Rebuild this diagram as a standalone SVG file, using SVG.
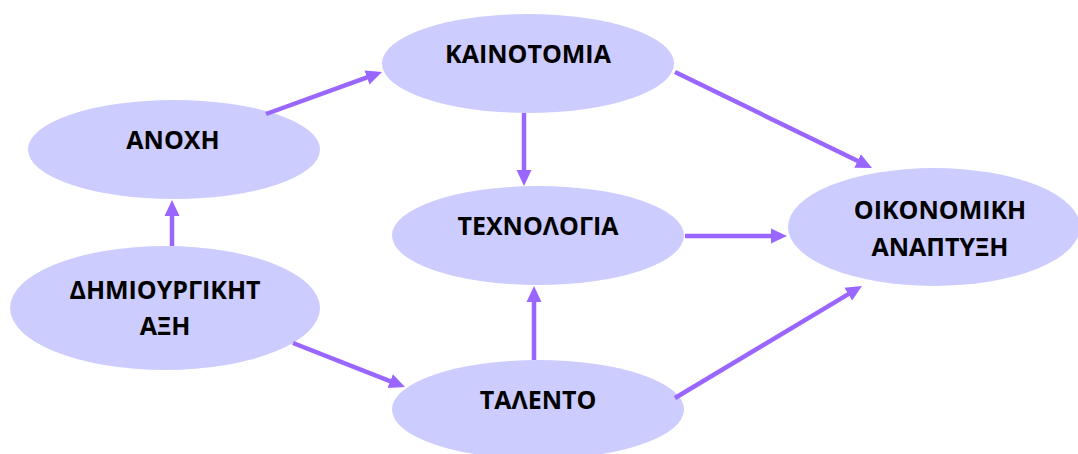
<svg xmlns="http://www.w3.org/2000/svg" width="1078" height="454" viewBox="0 0 1078 454">
<defs>
<style>
.node ellipse{fill:#CCCCFF;}
.node text{font-family:"Open Sans","Liberation Sans",sans-serif;font-weight:bold;font-size:25px;fill:#000;text-anchor:middle;}
.conn line{stroke:#9966FF;stroke-width:4.5;fill:none;marker-end:url(#ah);}
</style>
<marker id="ah" markerUnits="userSpaceOnUse" markerWidth="16" markerHeight="16" refX="6" refY="8" orient="auto">
<path d="M0,0.5 L16,8 L0,15.5 z" fill="#9966FF"/>
</marker>
</defs>
<rect width="1078" height="454" fill="#FFFFFF"/>
<g id="n-anoxh" class="node"><ellipse cx="174" cy="149.5" rx="146" ry="49.5"/><text x="173" y="149">ΑΝΟΧΗ</text></g>
<g id="n-kainotomia" class="node"><ellipse cx="528" cy="63.5" rx="146" ry="49.5"/><text x="528" y="63">ΚΑΙΝΟΤΟΜΙΑ</text></g>
<g id="n-texnologia" class="node"><ellipse cx="538" cy="235.5" rx="146" ry="49.5"/><text x="538" y="235">ΤΕΧΝΟΛΟΓΙΑ</text></g>
<g id="n-talento" class="node"><ellipse cx="538" cy="409.5" rx="146" ry="49.5"/><text x="538" y="409">ΤΑΛΕΝΤΟ</text></g>
<g id="n-dimiourgiki" class="node"><ellipse cx="165" cy="308" rx="155" ry="62"/><text x="165" y="299">ΔΗΜΙΟΥΡΓΙΚΗΤ</text><text x="165" y="335">ΑΞΗ</text></g>
<g id="n-oikonomiki" class="node"><ellipse cx="934" cy="227" rx="146" ry="59"/><text x="940" y="219">ΟΙΚΟΝΟΜΙΚΗ</text><text x="940" y="256">ΑΝΑΠΤΥΞΗ</text></g>
<g id="connectors" class="conn">
<line x1="266" y1="114" x2="372.6" y2="75.4"/>
<line x1="524" y1="113" x2="524" y2="176"/>
<line x1="675" y1="72" x2="863" y2="163.6"/>
<line x1="685" y1="236" x2="777" y2="236"/>
<line x1="534" y1="360" x2="534" y2="296"/>
<line x1="675" y1="398" x2="853.4" y2="291.1"/>
<line x1="293" y1="343" x2="395.7" y2="383.3"/>
<line x1="172" y1="246" x2="172" y2="210"/>
</g>
</svg>
